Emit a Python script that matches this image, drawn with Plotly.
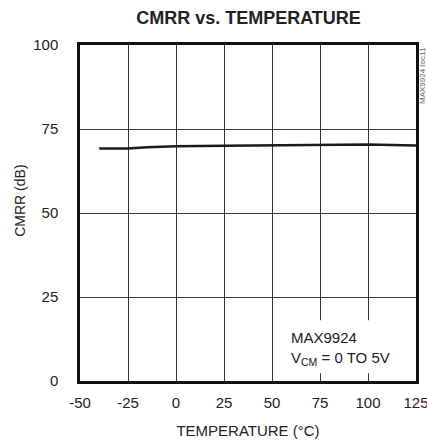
import plotly.graph_objects as go

temps = [-40, -25, -15, 0, 25, 50, 75, 100, 125]
cmrr = [69.2, 69.2, 69.6, 69.9, 70.0, 70.2, 70.4, 70.4, 70.1]

x_ticks = [-50, -25, 0, 25, 50, 75, 100, 125]
y_ticks = [0, 25, 50, 75, 100]

FONT = "Liberation Sans, Arial, sans-serif"
TXT = "#222"

fig = go.Figure()
fig.add_trace(go.Scatter(x=temps, y=cmrr, mode="lines",
                         line=dict(color="#1a1a1a", width=2.5), hoverinfo="skip"))

fig.add_shape(type="rect", xref="x", yref="y", x0=54, x1=123, y0=2.3, y1=18.1,
              fillcolor="white", line=dict(width=0), layer="above")

fig.add_annotation(x=59, y=13, xref="x", yref="y", text="MAX9924", showarrow=False,
                   xanchor="left", yanchor="middle", font=dict(family=FONT, size=15, color=TXT))
fig.add_annotation(x=59, y=6.8, xref="x", yref="y", text="V<sub>CM</sub> = 0 TO 5V", showarrow=False,
                   xanchor="left", yanchor="middle", font=dict(family=FONT, size=15, color=TXT))
fig.add_annotation(x=1.0, y=1.0, xref="paper", yref="paper", text="MAX9924 toc11", showarrow=False,
                   textangle=-90, xanchor="left", yanchor="top", xshift=0,
                   font=dict(family=FONT, size=8, color="#666"))
fig.add_annotation(x=-0.179, y=0.536, xref="paper", yref="paper", text="CMRR (dB)", showarrow=False,
                   textangle=-90, xanchor="center", yanchor="middle",
                   font=dict(family=FONT, size=14, color=TXT))

fig.update_layout(
    width=427, height=445,
    margin=dict(l=80, r=11, t=45, b=64, autoexpand=False),
    paper_bgcolor="white", plot_bgcolor="white",
    showlegend=False,
    font=dict(family=FONT, color=TXT),
    title=dict(text="<b>CMRR vs. TEMPERATURE</b>", x=0.582, xanchor="center",
               yref="container", y=1 - 18 / 445, yanchor="middle",
               font=dict(family=FONT, size=18, color=TXT)),
    xaxis=dict(range=[-50, 125], tickvals=x_ticks, ticktext=[str(v) for v in x_ticks],
               showgrid=True, gridcolor="#333", gridwidth=1, zeroline=False,
               showline=True, linecolor="#111", linewidth=2.5, mirror=True,
               ticks="", ticklabelstandoff=6, automargin=False, ticklabeloverflow="allow",
               tickfont=dict(family=FONT, size=15, color=TXT),
               title=dict(text="TEMPERATURE (°C)", font=dict(family=FONT, size=15, color=TXT), standoff=16)),
    yaxis=dict(range=[0, 100], tickvals=y_ticks, ticktext=[str(v) for v in y_ticks],
               showgrid=True, gridcolor="#333", gridwidth=1, zeroline=False,
               showline=True, linecolor="#111", linewidth=2.5, mirror=True,
               ticks="", ticklabelstandoff=16, automargin=False,
               tickfont=dict(family=FONT, size=15, color=TXT)),
)

fig.write_html("out.html", config={"displayModeBar": False},
               post_script="document.body.style.margin='0';document.body.style.overflow='hidden';")
